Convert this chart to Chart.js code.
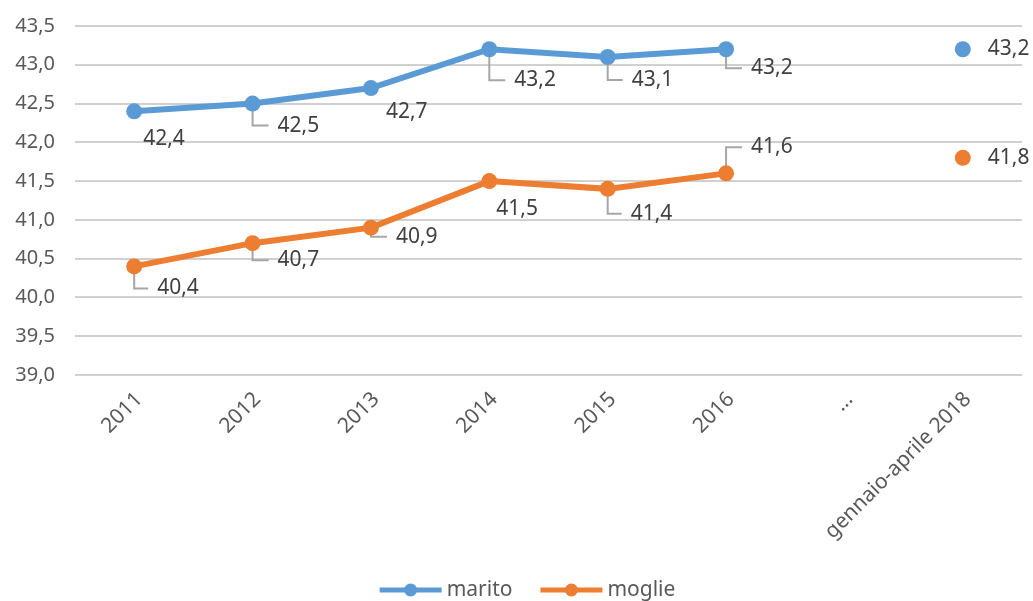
<!DOCTYPE html>
<html>
<head>
<meta charset="utf-8">
<script src="https://cdn.jsdelivr.net/npm/chart.js@4.4.1/dist/chart.umd.min.js"></script>
<style>
  html, body { margin: 0; padding: 0; background: #fff; }
  #wrap { width: 1033px; height: 601px; position: relative; }
</style>
</head>
<body>
<div id="wrap"><canvas id="myChart"></canvas></div>
<script>

// categories and values
const categories = ["2011", "2012", "2013", "2014", "2015", "2016", "…", "gennaio-aprile 2018"];
const marito = [42.4, 42.5, 42.7, 43.2, 43.1, 43.2, null, 43.2];
const moglie = [40.4, 40.7, 40.9, 41.5, 41.4, 41.6, null, 41.8];

const yMin = 39.0;
const yMax = 43.5;
const yStep = 0.5;

const blue = "#5B9BD5";
const orange = "#ED7D31";
const fontName = "'Noto Sans', sans-serif";

function fmt(v) {
	return v.toFixed(1).replace(".", ",");
}

// data labels, excel style, with leader lines: [dx, dy, leader]
const labelPlugin = {
	id: "excelLabels",
	beforeDatasetsDraw(chart, args, opts) {
		const ctx = chart.ctx;
		ctx.save();
		ctx.strokeStyle = "#a6a6a6";
		ctx.lineWidth = 2;
		chart.data.datasets.forEach(function (ds, di) {
			const meta = chart.getDatasetMeta(di);
			meta.data.forEach(function (pt, i) {
				if (ds.data[i] === null) return;
				const o = opts.offsets[di][i];
				if (!o[2]) return;
				const ty = pt.y + o[1];
				ctx.beginPath();
				ctx.moveTo(pt.x, pt.y);
				ctx.lineTo(pt.x, ty);
				ctx.lineTo(pt.x + o[0] - 9, ty);
				ctx.stroke();
			});
		});
		ctx.restore();
	},
	afterDatasetsDraw(chart, args, opts) {
		const ctx = chart.ctx;
		ctx.save();
		ctx.font = "21px " + fontName;
		ctx.fillStyle = "#404040";
		ctx.textAlign = "left";
		ctx.textBaseline = "middle";
		chart.data.datasets.forEach(function (ds, di) {
			const meta = chart.getDatasetMeta(di);
			meta.data.forEach(function (pt, i) {
				if (ds.data[i] === null) return;
				const o = opts.offsets[di][i];
				ctx.fillText(fmt(ds.data[i]), pt.x + o[0], pt.y + o[1]);
			});
		});
		ctx.restore();
	}
};

// excel-like legend: line with a dot, then the series name
const legendPlugin = {
	id: "excelLegend",
	afterDraw(chart, args, opts) {
		const ctx = chart.ctx;
		const symW = 62, gap = 5, itemGap = 28;
		ctx.save();
		ctx.font = "21px " + fontName;
		ctx.textBaseline = "middle";
		ctx.textAlign = "left";
		var items = chart.data.datasets.map(function (ds) {
			return { text: ds.label, color: ds.borderColor, w: ctx.measureText(ds.label).width };
		});
		var total = 0;
		items.forEach(function (it, i) {
			total += symW + gap + it.w + (i > 0 ? itemGap : 0);
		});
		var x = chart.width / 2 + opts.shift - total / 2;
		var y = chart.height - opts.fromBottom;
		items.forEach(function (it) {
			ctx.fillStyle = it.color;
			ctx.fillRect(x, y - 2.5, symW, 5);
			ctx.beginPath();
			ctx.arc(x + symW / 2, y, 6.5, 0, Math.PI * 2);
			ctx.fill();
			ctx.fillStyle = "#595959";
			ctx.fillText(it.text, x + symW + gap, y);
			x += symW + gap + it.w + itemGap;
		});
		ctx.restore();
	}
};

new Chart("myChart", {
	type: "line",
	data: {
		labels: categories,
		datasets: [{
			label: "marito",
			data: marito,
			borderColor: blue,
			backgroundColor: blue,
			borderWidth: 6,
			pointRadius: 8,
			pointHoverRadius: 8,
			pointBorderWidth: 0,
			tension: 0
		},
		{
			label: "moglie",
			data: moglie,
			borderColor: orange,
			backgroundColor: orange,
			borderWidth: 6,
			pointRadius: 8,
			pointHoverRadius: 8,
			pointBorderWidth: 0,
			tension: 0
		}]
	},
	options: {
		responsive: true,
		maintainAspectRatio: false,
		animation: false,
		layout: {
			padding: { left: 0, right: 11, top: 26, bottom: 54 }
		},
		scales: {
			x: {
				offset: true,
				grid: { display: false },
				border: { display: false },
				ticks: {
					color: "#595959",
					font: { family: fontName, size: 21 },
					minRotation: 45,
					maxRotation: 45,
					autoSkip: false,
					padding: 4,
					labelOffset: 5
				},
				afterFit: function (scale) { scale.height = 172; }
			},
			y: {
				min: yMin,
				max: yMax,
				border: { display: false },
				grid: { color: "#d0d0d0", lineWidth: 2, drawTicks: true, tickLength: 14, tickColor: "rgba(0,0,0,0)" },
				ticks: {
					stepSize: yStep,
					color: "#595959",
					font: { family: fontName, size: 20 },
					padding: 6,
					callback: function (v) { return fmt(v); }
				},
				afterFit: function (scale) { scale.width = 75; }
			}
		},
		plugins: {
			tooltip: { enabled: false },
			legend: { display: false },
			excelLegend: { shift: 11, fromBottom: 11 },
			excelLabels: {
				offsets: [
					[[9, 28, 0], [25, 22, 1], [15, 24, 0], [25, 31, 1], [24, 23, 1], [25, 19, 1], [0, 0, 0], [25, 0, 0]],
					[[23, 22, 1], [25, 17, 1], [25, 9, 1], [7, 28, 0], [23, 25, 1], [25, -26, 1], [0, 0, 0], [25, 0, 0]]
				]
			}
		}
	},
	plugins: [labelPlugin, legendPlugin]
});

</script>
</body>
</html>
